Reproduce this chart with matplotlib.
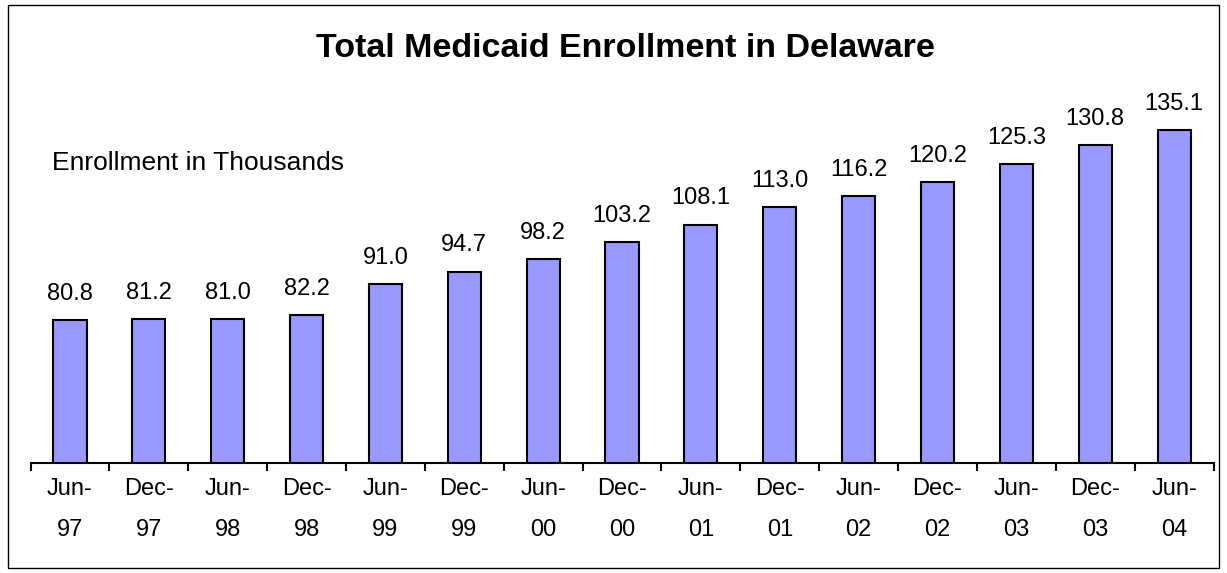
import numpy as np
import matplotlib.pyplot as plt
from matplotlib.patches import Rectangle

plt.rcParams['font.family'] = ['Liberation Sans', 'DejaVu Sans']

# data
periods = ['Jun-\n97', 'Dec-\n97', 'Jun-\n98', 'Dec-\n98', 'Jun-\n99', 'Dec-\n99', 'Jun-\n00',
           'Dec-\n00', 'Jun-\n01', 'Dec-\n01', 'Jun-\n02', 'Dec-\n02', 'Jun-\n03', 'Dec-\n03', 'Jun-\n04']
enrollment = [80.8, 81.2, 81.0, 82.2, 91.0, 94.7, 98.2, 103.2, 108.1, 113.0,
              116.2, 120.2, 125.3, 130.8, 135.1]

fig = plt.figure(figsize=(12.27, 5.73), dpi=100)
ax = fig.add_axes([0.0249, 0.192, 0.9641, 0.733])

x = np.arange(len(enrollment))
ax.bar(x, enrollment, width=0.42, color='#9999FF', edgecolor='black', linewidth=1.5)
ax.set_ylim(40, 160)
ax.set_xlim(-0.5, len(enrollment) - 0.5)

for xi, v in zip(x, enrollment):
    ax.annotate('%.1f' % v, (xi, v), xytext=(0, 11), textcoords='offset points',
                ha='center', va='bottom', fontsize=17)

# axis styling
for s in ['left', 'right', 'top']:
    ax.spines[s].set_visible(False)
ax.spines['bottom'].set_linewidth(1.5)
ax.set_yticks([])
ax.set_xticks(np.arange(len(enrollment) + 1) - 0.5)
ax.set_xticklabels([])
ax.tick_params(axis='x', direction='out', length=6, width=1.5)
ax.set_xticks(x, minor=True)
ax.set_xticklabels(periods, minor=True, fontsize=17, linespacing=2.1)
ax.tick_params(axis='x', which='minor', length=0, pad=11)

fig.text(0.51, 0.915, 'Total Medicaid Enrollment in Delaware', ha='center', va='center',
         fontsize=24.5, fontweight='bold')
fig.text(0.0425, 0.716, 'Enrollment in Thousands', ha='left', va='center', fontsize=19)

# chart border
fig.patches.append(Rectangle((8 / 1227, 5 / 573), 1211 / 1227, 563 / 573, transform=fig.transFigure,
                             fill=False, edgecolor='black', linewidth=1))

plt.savefig('out.png', dpi=100)
